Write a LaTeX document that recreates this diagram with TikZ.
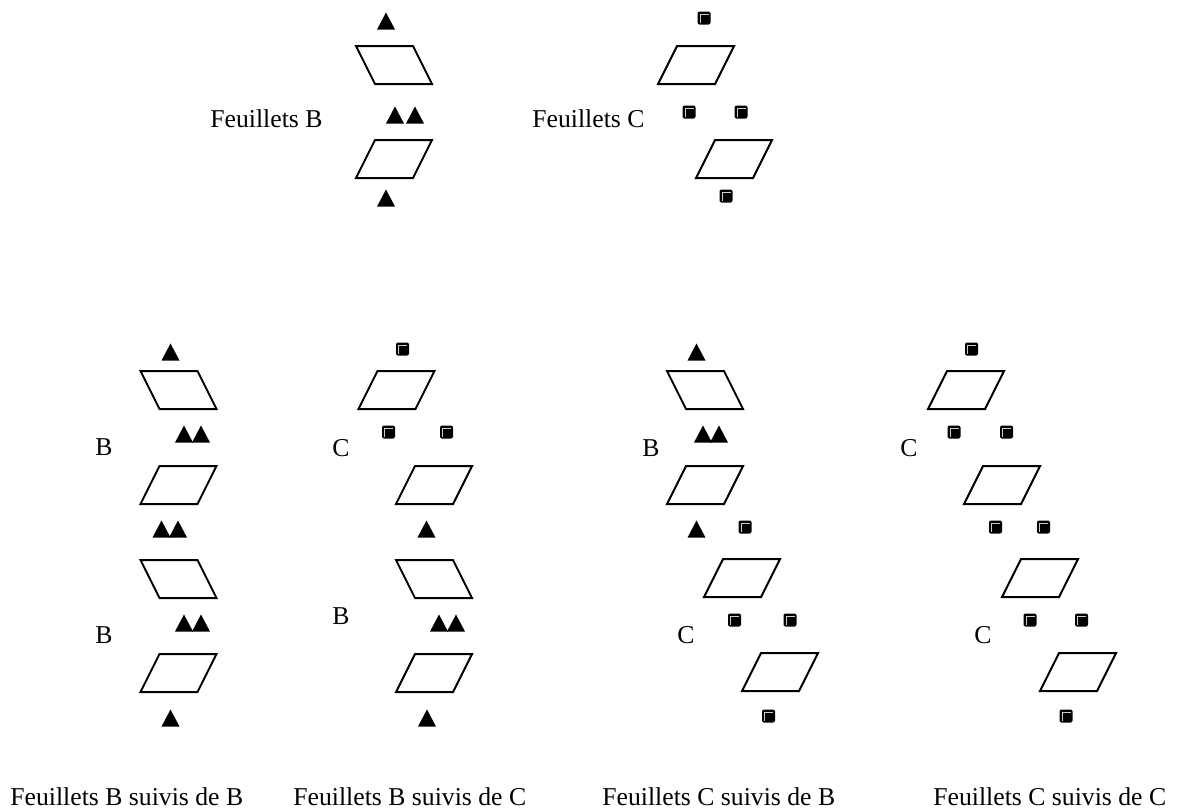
\documentclass[tikz,border=0pt]{standalone}
\usepackage{fontspec}
\setmainfont{Liberation Serif}
\tikzset{
  sheetline/.style={black, line width=1pt, line join=miter},
  % sheet leaning left and sheet leaning right
  lsheet/.pic={\draw[sheetline] (-38,-19) -- (19,-19) -- (38,19) -- (-19,19) -- cycle;},
  rsheet/.pic={\draw[sheetline] (-19,-19) -- (38,-19) -- (19,19) -- (-38,19) -- cycle;},
  % markers
  tri/.pic={\fill[black] (-9,8.5) -- (9,8.5) -- (0,-8.5) -- cycle;},
  sq/.pic={\fill[black, rounded corners=1pt] (-6.5,-6.5) rectangle (6.5,6.5);
           \draw[gray!40, line width=0.25pt] (-4,4.5) -- (-4,-4) -- (4.5,-4);},
  lbl/.style={font=\fontsize{12.85}{15}\selectfont, inner sep=0pt, anchor=base west}
}
\begin{document}
\begin{tikzpicture}[x=0.5pt, y=-0.5pt]
        \useasboundingbox (0,0) rectangle (1180,810);
        % Feuillets B
        \pic at (394,65) {lsheet};
        \pic at (394,159) {rsheet};
        \foreach \x/\y in {386/21, 395/115, 415/115, 386/198}
          \pic at (\x,\y) {tri};
        \node[lbl] (labB) at (210,127) {Feuillets B};
        % Feuillets C
        \pic at (696,65) {rsheet};
        \pic at (734,159) {rsheet};
        \foreach \x/\y in {704/18, 689/112, 741/112, 726/196}
          \pic at (\x,\y) {sq};
        \node[lbl] (labC) at (532,127) {Feuillets C};
        % B suivis de B
        \pic at (178.5,390) {lsheet};
        \pic at (178.5,485) {rsheet};
        \pic at (178.5,579) {lsheet};
        \pic at (178.5,673) {rsheet};
        \foreach \x/\y in {170.5/352, 184/434, 201/434, 161.5/529, 178/529, 184/623, 201/623, 170.5/718}
          \pic at (\x,\y) {tri};
        \node[lbl] (bbB1) at (95,455) {B};
        \node[lbl] (bbB2) at (95,643) {B};
        \node[lbl] (bbCap) at (10,805) {Feuillets B suivis de B};
        % B suivis de C
        \pic at (396.5,390) {rsheet};
        \pic at (434,485) {rsheet};
        \pic at (434,579) {lsheet};
        \pic at (434,673) {rsheet};
        \foreach \x/\y in {402.5/349, 388.5/432, 446.5/432}
          \pic at (\x,\y) {sq};
        \foreach \x/\y in {426.5/529, 439/623, 456/623, 427/718}
          \pic at (\x,\y) {tri};
        \node[lbl] (bcC) at (332,456) {C};
        \node[lbl] (bcB) at (332,624) {B};
        \node[lbl] (bcCap) at (293,805) {Feuillets B suivis de C};
        % C suivis de B
        \pic at (705,390) {lsheet};
        \pic at (705,485) {rsheet};
        \pic at (742,578) {rsheet};
        \pic at (780,672) {rsheet};
        \foreach \x/\y in {696.5/352, 703/434, 719/434, 696.5/529}
          \pic at (\x,\y) {tri};
        \foreach \x/\y in {745/527, 734.5/620, 790/620, 768.5/716}
          \pic at (\x,\y) {sq};
        \node[lbl] (cbB) at (642,456) {B};
        \node[lbl] (cbC) at (677,643) {C};
        \node[lbl] (cbCap) at (602,805) {Feuillets C suivis de B};
        % C suivis de C
        \pic at (966,390) {rsheet};
        \pic at (1002,485) {rsheet};
        \pic at (1040,578) {rsheet};
        \pic at (1078,672) {rsheet};
        \foreach \x/\y in {971.5/349, 954/432, 1006.5/432, 995.5/527, 1043.5/527, 1030/620, 1081.5/620, 1066/716}
          \pic at (\x,\y) {sq};
        \node[lbl] (ccC1) at (900,456) {C};
        \node[lbl] (ccC2) at (974,643) {C};
        \node[lbl] (ccCap) at (933,805) {Feuillets C suivis de C};
      \end{tikzpicture}
\end{document}
